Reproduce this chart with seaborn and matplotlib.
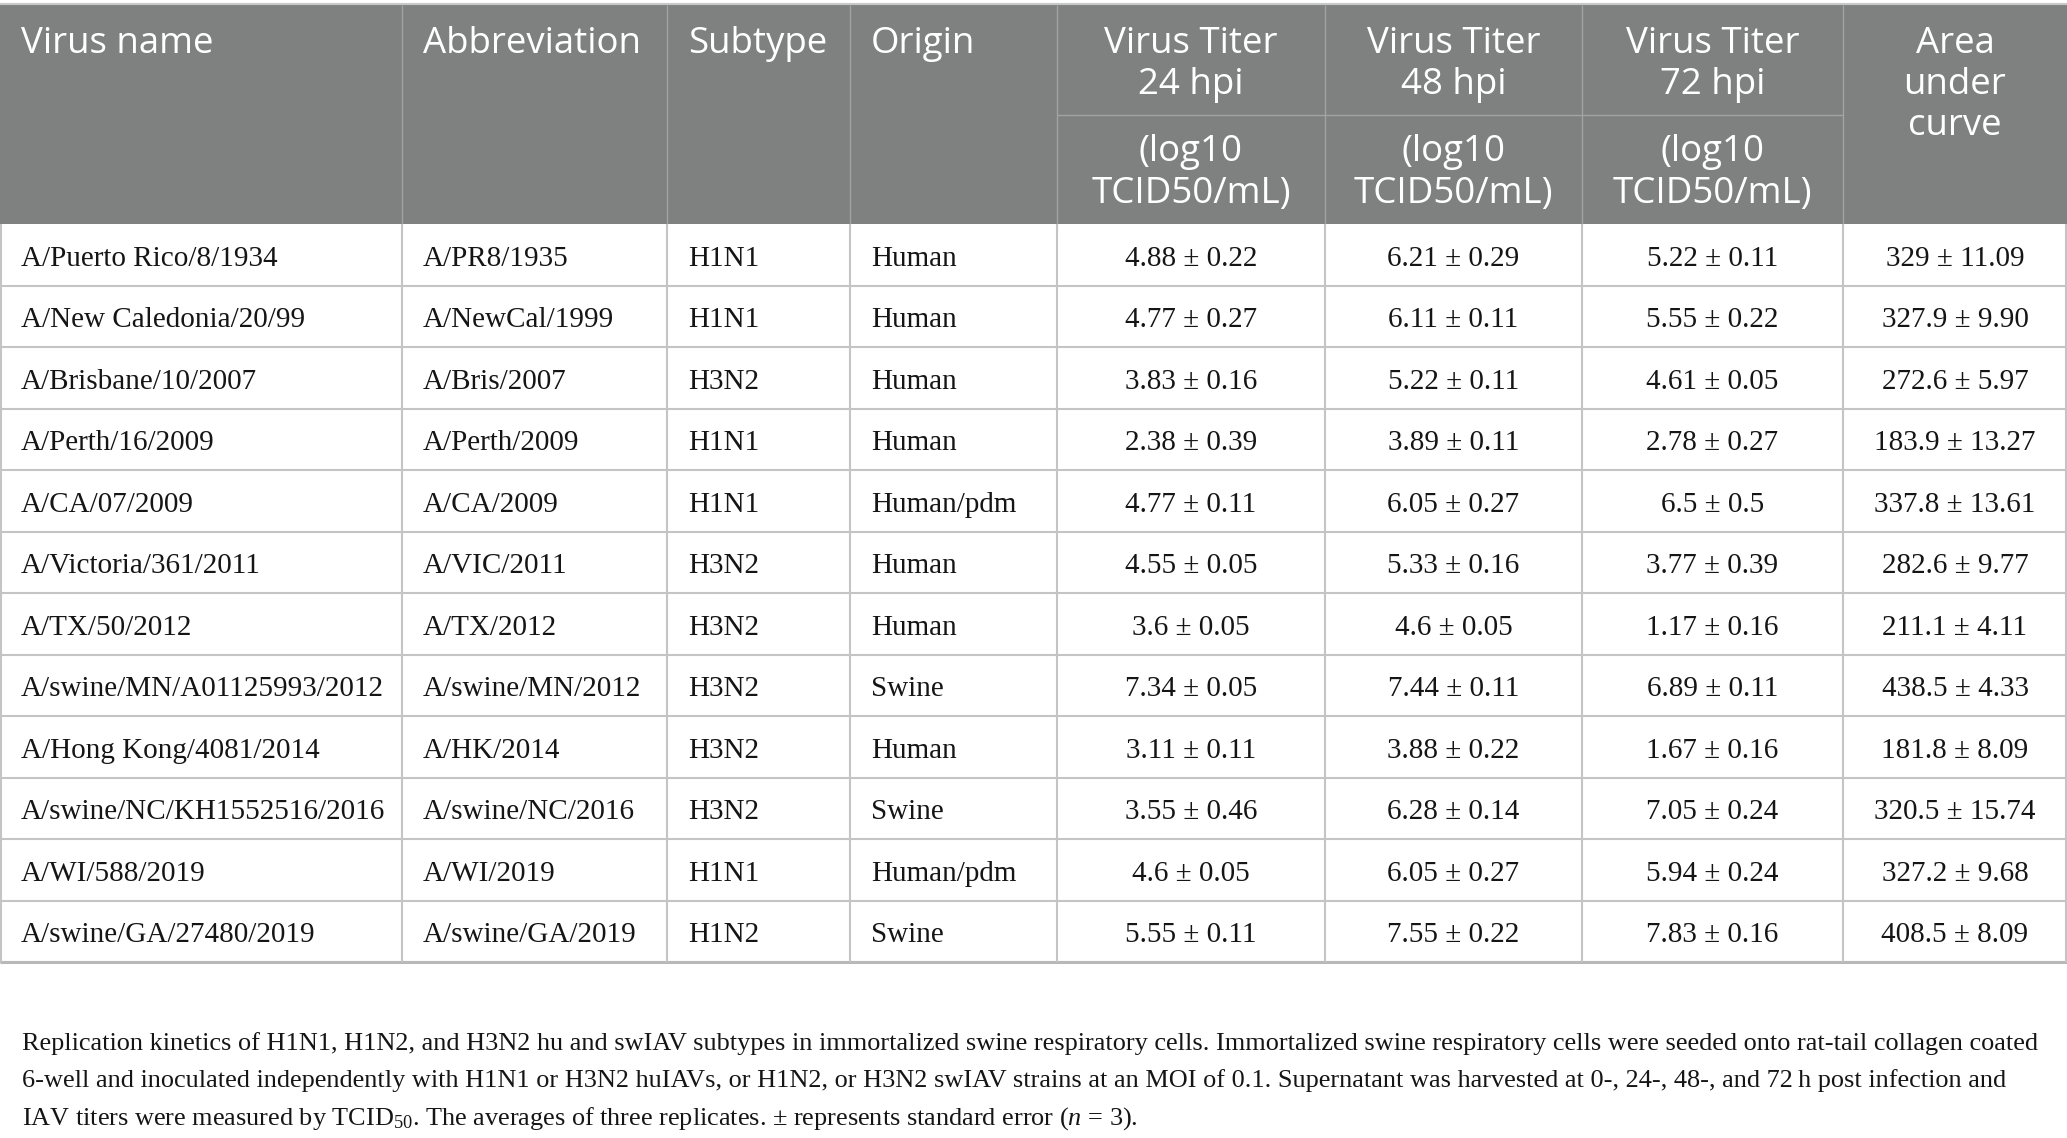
import matplotlib.pyplot as plt
from matplotlib.patches import Rectangle
import seaborn as sns

sns.set_theme(style="white")
plt.rcParams['font.family'] = ['Liberation Serif', 'DejaVu Serif']
plt.rcParams['mathtext.fontset'] = 'custom'
plt.rcParams['mathtext.rm'] = 'Liberation Serif'
plt.rcParams['mathtext.it'] = 'Liberation Serif:italic'

# table content
virus_names = ["A/Puerto Rico/8/1934", "A/New Caledonia/20/99", "A/Brisbane/10/2007",
               "A/Perth/16/2009", "A/CA/07/2009", "A/Victoria/361/2011", "A/TX/50/2012",
               "A/swine/MN/A01125993/2012", "A/Hong Kong/4081/2014",
               "A/swine/NC/KH1552516/2016", "A/WI/588/2019", "A/swine/GA/27480/2019"]
abbreviations = ["A/PR8/1935", "A/NewCal/1999", "A/Bris/2007", "A/Perth/2009", "A/CA/2009",
                 "A/VIC/2011", "A/TX/2012", "A/swine/MN/2012", "A/HK/2014",
                 "A/swine/NC/2016", "A/WI/2019", "A/swine/GA/2019"]
subtypes = ["H1N1", "H1N1", "H3N2", "H1N1", "H1N1", "H3N2", "H3N2", "H3N2", "H3N2",
            "H3N2", "H1N1", "H1N2"]
origins = ["Human", "Human", "Human", "Human", "Human/pdm", "Human", "Human", "Swine",
           "Human", "Swine", "Human/pdm", "Swine"]
titer_24 = ["4.88 ± 0.22", "4.77 ± 0.27", "3.83 ± 0.16", "2.38 ± 0.39", "4.77 ± 0.11",
            "4.55 ± 0.05", "3.6 ± 0.05", "7.34 ± 0.05", "3.11 ± 0.11", "3.55 ± 0.46",
            "4.6 ± 0.05", "5.55 ± 0.11"]
titer_48 = ["6.21 ± 0.29", "6.11 ± 0.11", "5.22 ± 0.11", "3.89 ± 0.11", "6.05 ± 0.27",
            "5.33 ± 0.16", "4.6 ± 0.05", "7.44 ± 0.11", "3.88 ± 0.22", "6.28 ± 0.14",
            "6.05 ± 0.27", "7.55 ± 0.22"]
titer_72 = ["5.22 ± 0.11", "5.55 ± 0.22", "4.61 ± 0.05", "2.78 ± 0.27", "6.5 ± 0.5",
            "3.77 ± 0.39", "1.17 ± 0.16", "6.89 ± 0.11", "1.67 ± 0.16", "7.05 ± 0.24",
            "5.94 ± 0.24", "7.83 ± 0.16"]
auc = ["329 ± 11.09", "327.9 ± 9.90", "272.6 ± 5.97", "183.9 ± 13.27", "337.8 ± 13.61",
       "282.6 ± 9.77", "211.1 ± 4.11", "438.5 ± 4.33", "181.8 ± 8.09", "320.5 ± 15.74",
       "327.2 ± 9.68", "408.5 ± 8.09"]

columns = [virus_names, abbreviations, subtypes, origins, titer_24, titer_48, titer_72, auc]
left_headers = ["Virus name", "Abbreviation", "Subtype", "Origin"]
titer_headers = [["Virus Titer", "24 hpi"], ["Virus Titer", "48 hpi"], ["Virus Titer", "72 hpi"]]
unit_header = ["(log10", "TCID50/mL)"]
auc_header = ["Area", "under", "curve"]

caption = [
    "Replication kinetics of H1N1, H1N2, and H3N2 hu and swIAV subtypes in immortalized swine "
    "respiratory cells. Immortalized swine respiratory cells were seeded onto rat-tail collagen coated",
    "6-well and inoculated independently with H1N1 or H3N2 huIAVs, or H1N2, or H3N2 swIAV strains "
    "at an MOI of 0.1. Supernatant was harvested at 0-, 24-, 48-, and 72\u2009h post infection and",
    r"IAV titers were measured by TCID$_{50}$. The averages of three replicates. ± represents "
    r"standard error ($\mathit{n}$ = 3).",
]

W, H = 2067, 1138
col_edges = [0, 402, 667, 850, 1057, 1325, 1582, 1843, W]
head_top, head_mid, head_bot = 5, 115, 224
row_h = 61.5
n_rows = len(virus_names)

header_col = '#7f8080'
head_line = '#a3a3a3'
grid_col = '#c4c4c4'
text_col = '#151515'
head_font = ['Open Sans', 'DejaVu Sans']
head_size = 26.4
body_size = 21

fig = plt.figure(figsize=(W / 100, H / 100), dpi=100)
ax = fig.add_axes([0, 0, 1, 1])
ax.set_xlim(0, W)
ax.set_ylim(H, 0)
ax.axis('off')

# header block
ax.add_patch(Rectangle((0, head_top), W, head_bot - head_top, color=header_col, lw=0))
ax.hlines(head_top - 1, 0, W, color='#c8c8c8', lw=1.5)
ax.vlines(col_edges[1:-1], head_top, head_bot, color=head_line, lw=1)
ax.hlines(head_mid, col_edges[4], col_edges[7], color=head_line, lw=1)

for i, lab in enumerate(left_headers):
    ax.text(col_edges[i] + 21, 44, lab, ha='left', va='center', color='white',
            fontsize=head_size, family=head_font)
for j, lines in enumerate(titer_headers):
    cx = (col_edges[4 + j] + col_edges[5 + j]) / 2
    for k, ln in enumerate(lines):
        ax.text(cx, 44 + 41 * k, ln, ha='center', va='center', color='white',
                fontsize=head_size, family=head_font)
    for k, ln in enumerate(unit_header):
        ax.text(cx, 152 + 42 * k, ln, ha='center', va='center', color='white',
                fontsize=head_size, family=head_font)
cx = (col_edges[7] + col_edges[8]) / 2
for k, ln in enumerate(auc_header):
    ax.text(cx, 44 + 41 * k, ln, ha='center', va='center', color='white',
            fontsize=head_size, family=head_font)

# body grid
table_bot = head_bot + n_rows * row_h
for r in range(1, n_rows + 1):
    ax.hlines(head_bot + r * row_h, 0, W, color=grid_col, lw=1.5)
ax.hlines(table_bot, 0, W, color='#b8b8b8', lw=2.2)
ax.vlines(col_edges[1:-1], head_bot, table_bot, color=grid_col, lw=1.5)
ax.vlines([0.8, W - 0.8], head_bot, table_bot, color=grid_col, lw=1.5)

for c, values in enumerate(columns):
    for r, val in enumerate(values):
        y = head_bot + (r + 0.5) * row_h + 4
        if c < 4:
            ax.text(col_edges[c] + 21, y, val, ha='left', va='center',
                    fontsize=body_size, color=text_col)
        else:
            ax.text((col_edges[c] + col_edges[c + 1]) / 2, y, val, ha='center',
                    va='center', fontsize=body_size, color=text_col)

# caption
for k, ln in enumerate(caption):
    ax.text(22, 1050 + 37.5 * k, ln, ha='left', va='baseline', fontsize=18.9, color=text_col)

fig.savefig('out.png', dpi=100)
